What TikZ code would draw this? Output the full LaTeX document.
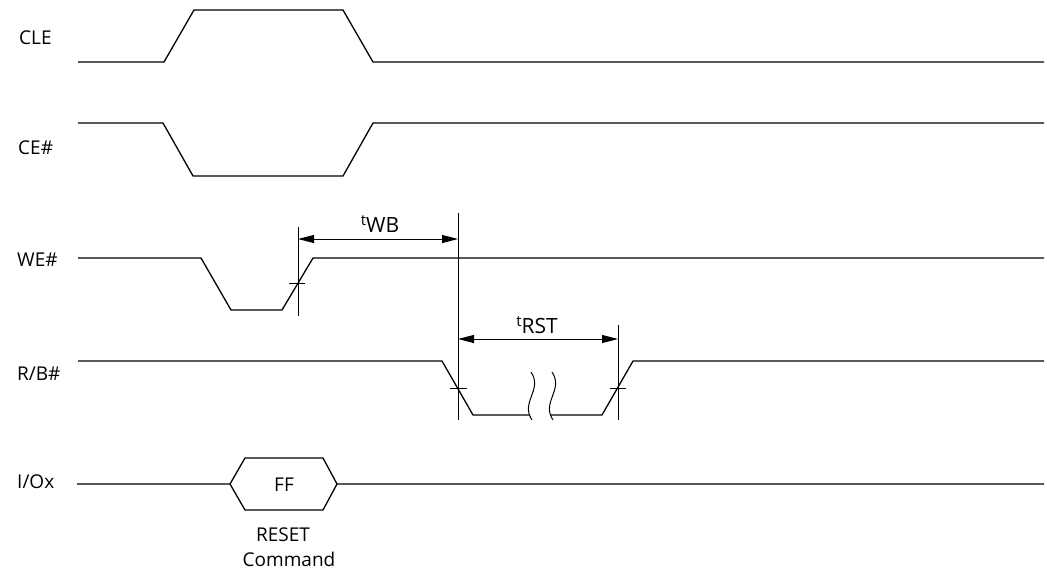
\documentclass[tikz,border=0pt]{standalone}
\usepackage{fontspec}
\setmainfont{Open Sans}
\usetikzlibrary{arrows.meta}
\newcommand{\tsup}[1]{{\fontsize{15}{15}\selectfont\raisebox{6.5pt}{#1}}}
\begin{document}
\begin{tikzpicture}[x=1pt,y=-1pt,
  sig/.style={line width=1.3pt, line join=miter},
  dim/.style={line width=1pt},
  lbl/.style={font=\fontsize{19}{23}\selectfont, inner sep=0pt},
  tlbl/.style={font=\fontsize{21}{25}\selectfont, inner sep=0pt},
  arr/.style={dim, {Triangle[length=16pt,width=8pt]}-{Triangle[length=16pt,width=8pt]}}]
\useasboundingbox (0,0) rectangle (1047,571);
% signal names
\node[lbl, anchor=base west] (nCLE) at (19,44.5) {CLE};
\node[lbl, anchor=base west] (nCE) at (18,154) {CE\#};
\node[lbl, anchor=base west] (nWE) at (17,266) {WE\#};
\node[lbl, anchor=base west] (nRB) at (17,380) {R/B\#};
\node[lbl, anchor=base west] (nIO) at (17,488) {I/Ox};
% waveforms
\draw[sig] (78,62) -- (164,62) -- (194,10) -- (343,10) -- (373,62) -- (1044,62);
\draw[sig] (78,123) -- (163,123) -- (193,176) -- (343,176) -- (373,123) -- (1044,123);
\draw[sig] (78,258) -- (201,258) -- (231,310) -- (282,310) -- (313,258) -- (1044,258);
\draw[sig] (78,361) -- (442,361) -- (473,415) -- (529,415);
\draw[sig] (551,415) -- (602,415) -- (633,361) -- (1044,361);
\draw[sig] (77,484) -- (230,484) -- (245,458) -- (323,458) -- (337,484) -- (1044,484);
\draw[sig] (230,484) -- (245,510) -- (323,510) -- (337,484);
\node[lbl] (ff) at (284,485) {FF};
\node[lbl, anchor=base] (rc) at (283,541) {RESET};
\node[lbl, anchor=base] (cmd) at (289,566) {Command};
% break marks
\draw[dim] (531,372) .. controls (543,390) and (520,402) .. (532,420);
\draw[dim] (552,372) .. controls (564,390) and (541,402) .. (553,420);
% reference lines and ticks
\coordinate (wbL) at (298,239);
\coordinate (wbR) at (458,239);
\coordinate (rstL) at (458,339);
\coordinate (rstR) at (618,339);
\draw[dim] (298,227) -- (298,316);
\draw[dim] (458,213) -- (458,420);
\draw[dim] (618,325) -- (618,420);
\draw[dim] (289,283) -- (305,283);
\draw[dim] (450,388) -- (467,388);
\draw[dim] (610,388) -- (626,388);
\draw[arr] (wbL) -- (wbR);
\draw[arr] (rstL) -- (rstR);
\node[tlbl, anchor=base] (twb) at (380,232) {\tsup{t}WB};
\node[tlbl, anchor=base] (trst) at (537,333) {\tsup{t}RST};
\end{tikzpicture}
\end{document}
